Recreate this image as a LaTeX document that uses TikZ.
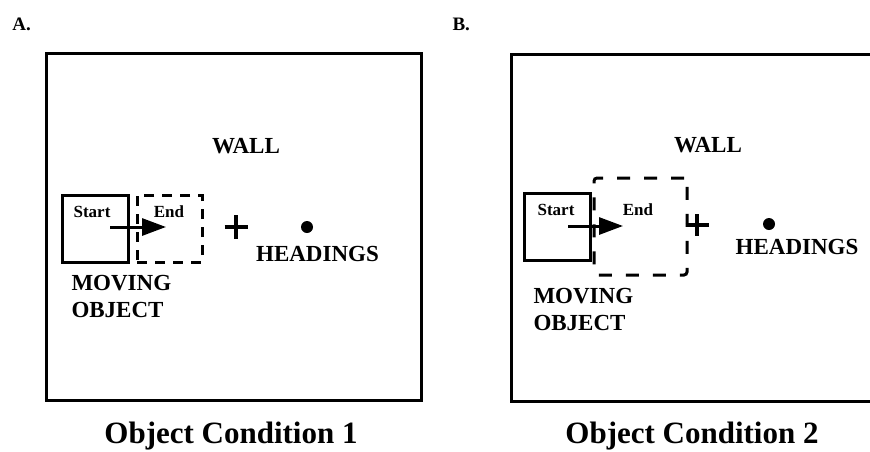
\documentclass[tikz,border=0pt]{standalone}
\usepackage{fontspec}
\setmainfont{Liberation Serif}
\usetikzlibrary{arrows.meta, positioning}
\tikzset{
  every picture/.style={x=1pt, y=-1pt, line width=3pt},
  wall/.style={draw, line width=3pt, minimum width=375pt, minimum height=347pt, inner sep=0pt, anchor=north west},
  objbox/.style={draw, line width=3pt, minimum width=66pt, minimum height=67pt, inner sep=0pt},
  endbox/.style={draw, line width=3pt, inner sep=0pt, dash pattern=on 10pt off 8pt},
  move/.style={-{Triangle[length=24pt, width=17pt]}, line width=3pt},
  cross/.style={line width=4pt},
  dot/.style={circle, fill, inner sep=0pt, minimum size=12pt},
  lbl/.style={font=\fontsize{23}{27}\selectfont\bfseries, align=left, inner sep=0pt},
  small/.style={font=\fontsize{17}{19}\selectfont\bfseries, inner sep=0pt},
  title/.style={font=\fontsize{31}{34}\selectfont\bfseries, inner sep=0pt},
  panel/.style={font=\fontsize{19}{21}\selectfont\bfseries, inner sep=0pt},
}
\begin{document}
\begin{tikzpicture}
  \clip (0,0) rectangle (870,451);
  \fill[white] (0,0) rectangle (870,451);
  % condition 1
  \node[panel, anchor=base west] (labA) at (11,30) {A.};
  \node[wall] (wallA) at (45,52) {};
  \node[lbl] (wtxtA) at (246,146) {WALL};
  \node[objbox] (startA) at (95,228.5) {};
  \node[endbox, minimum width=65pt, minimum height=67pt] (endA) at (169.5,228.5) {};
  \node[small] (stxtA) at (92,212) {Start};
  \node[small] (etxtA) at (169,212) {End};
  \coordinate (mA) at (110,227);
  \coordinate (tipA) at (166,227);
  \draw[move] (mA) -- (tipA);
  \coordinate (plA) at (236,227);
  \draw[cross] (plA) +(-11.5,0) -- +(11.5,0) (plA) +(0,-12) -- +(0,12);
  \node[dot] (dotA) at (307,227) {};
  \node[lbl] (headA) at (317.5,253.5) {HEADINGS};
  \node[lbl, anchor=north west] (objA) at (70,274) {MOVING\\OBJECT};
  \node[title, anchor=base] (capA) at (231,443) {Object Condition 1};
  % condition 2
  \node[panel, anchor=base west] (labB) at (451,30) {B.};
  \node[wall] (wallB) at (510,53) {};
  \node[lbl] (wtxtB) at (708,145) {WALL};
  \node[objbox] (startB) at (557,226.5) {};
  \node[endbox, rounded corners=3pt, dash pattern=on 13pt off 14pt, minimum width=93pt, minimum height=97pt] (endB) at (640.5,226.5) {};
  \node[small] (stxtB) at (556,210) {Start};
  \node[small] (etxtB) at (638,210) {End};
  \coordinate (mB) at (568,226);
  \coordinate (tipB) at (623,226);
  \draw[move] (mB) -- (tipB);
  \coordinate (plB) at (697,225);
  \draw[cross] (plB) +(-11.5,0) -- +(11.5,0) (plB) +(0,-11) -- +(0,11);
  \node[dot] (dotB) at (769,224) {};
  \node[lbl] (headB) at (797,247) {HEADINGS};
  \node[lbl, anchor=north west] (objB) at (532,287) {MOVING\\OBJECT};
  \node[title, anchor=base] (capB) at (692,443) {Object Condition 2};
\end{tikzpicture}
\end{document}
